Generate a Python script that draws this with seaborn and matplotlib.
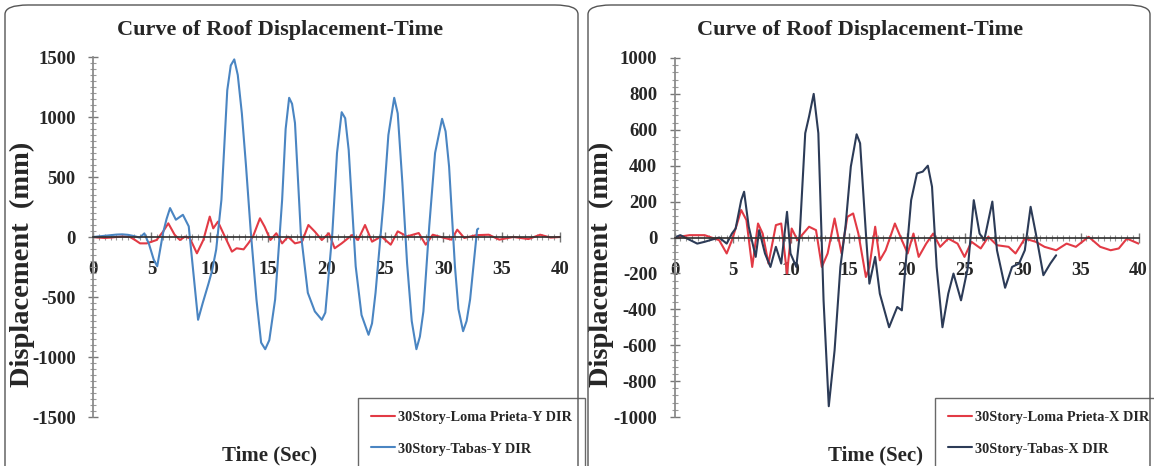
import numpy as np
import pandas as pd
import seaborn as sns
import matplotlib.pyplot as plt
from matplotlib.patches import FancyBboxPatch
from matplotlib.ticker import MultipleLocator

# ---- datos (tiempo en s, desplazamiento en mm) ----
t_loma_y = [0, 0.5, 1.0, 1.5, 2.0, 2.5, 3.17, 3.6, 4.03, 4.6, 5.0, 5.45, 6.0, 6.45, 7.0, 7.45,
            7.88, 8.3, 8.9, 9.45, 10.0, 10.3, 10.7, 11.16, 11.9, 12.3, 12.9, 13.3, 13.7, 14.3,
            14.7, 15.2, 15.7, 16.2, 16.7, 17.3, 17.9, 18.45, 19.0, 19.6, 20.2, 20.7, 21.3, 22.2,
            22.7, 23.3, 23.9, 24.7, 25.5, 26.1, 26.9, 27.9, 28.5, 29.1, 30.1, 30.7, 31.2, 31.8,
            32.8, 33.9, 34.8, 36.0, 37.3, 38.3, 39.2, 40.0]
d_loma_y = [0, -5, -8, -5, 0, 5, 0, -25, -53, -53, -40, -25, 45, 114, 17, -25,
            3, -11, -136, -25, 170, 72, 128, 31, -122, -94, -103, -53, 3, 156,
            86, -25, 31, -53, 3, -53, -39, 100, 45, -25, 31, -94, -53, 17,
            -25, 100, -39, 5, -64, 47, 5, 33, -64, 19, -8, -22, 61, -8,
            15, 19, -22, 0, -17, 19, -5, 0]

t_tabas_y = [0, 0.5, 1.0, 1.5, 2.0, 2.5, 3.0, 3.5, 4.0, 4.4, 4.8, 5.2, 5.5, 6.0, 6.3, 6.6, 7.1,
             7.7, 8.2, 8.6, 9.0, 9.4, 9.9, 10.2, 10.55, 11.0, 11.5, 11.8, 12.1, 12.4, 12.75,
             13.1, 13.5, 14.0, 14.4, 14.75, 15.1, 15.6, 16.2, 16.5, 16.8, 17.05, 17.3, 17.8,
             18.4, 19.0, 19.6, 19.9, 20.5, 20.9, 21.3, 21.6, 21.9, 22.5, 23.0, 23.6, 23.9,
             24.2, 24.9, 25.3, 25.8, 26.1, 26.5, 26.9, 27.3, 27.7, 28.0, 28.3, 28.8, 29.3,
             29.9, 30.2, 30.5, 31.0, 31.3, 31.7, 32.0, 32.3, 32.9, 33.0]
d_tabas_y = [0, 5, 10, 15, 20, 22, 18, 8, -5, 30, -60, -188, -244, 33, 150, 241, 144,
             185, 89, -300, -690, -550, -386, -280, -105, 310, 1223, 1430, 1480, 1350, 1030,
             600, 61, -520, -880, -935, -860, -520, 310, 900, 1160, 1110, 950, 33,
             -465, -620, -690, -630, 33, 700, 1040, 990, 725, -244, -650, -815, -720,
             -465, 310, 850, 1160, 1030, 450, -216, -700, -935, -830, -620, 89, 700,
             985, 880, 587, -244, -600, -785, -700, -520, 61, 70]

t_loma_x = [0, 1.3, 2.6, 3.85, 4.5, 4.95, 5.4, 5.75, 6.2, 6.7, 7.2, 7.6, 8.1, 8.74, 9.2, 9.7,
            10.1, 10.6, 11.1, 11.6, 12.2, 12.7, 13.2, 13.8, 14.4, 14.9, 15.4, 15.85, 16.5,
            16.8, 17.3, 17.7, 18.2, 19.0, 19.6, 20.1, 20.6, 21.05, 21.7, 22.3, 22.9, 23.6,
            24.4, 25.0, 25.6, 26.4, 27.05, 27.8, 28.8, 29.4, 30.2, 31.15, 31.9, 32.9, 33.8,
            34.6, 35.7, 36.7, 37.6, 38.3, 39.0, 40.0]
d_loma_x = [0, 13, 13, -15, -89, -15, 78, 153, 97, -164, 78, 22, -145, 69, 78, -201,
            50, -15, 22, 60, 41, -164, -89, 106, -89, 115, 134, 22, -220,
            -164, 60, -127, -71, 78, -15, -89, 22, -108, -34, 22, -52, -6,
            -34, -108, -24, -61, 4, -43, -52, -89, -6, -24, -52, -71, -34,
            -52, 4, -52, -71, -61, -6, -34]

t_tabas_x = [0, 0.5, 1.96, 2.6, 3.85, 4.5, 4.95, 5.27, 5.75, 6.0, 6.4, 7.0, 7.3, 7.8, 8.27,
             8.74, 9.2, 9.7, 10.0, 10.5, 10.8, 11.27, 11.6, 12.0, 12.4, 12.85, 13.3, 13.8,
             14.3, 14.74, 15.2, 15.7, 16.0, 16.5, 16.8, 17.3, 17.7, 18.5, 19.2, 19.6, 20.1,
             20.4, 20.9, 21.4, 21.84, 22.2, 22.6, 23.1, 23.6, 24.05, 24.7, 25.3, 25.8, 26.3,
             26.7, 27.4, 27.8, 28.5, 29.1, 29.7, 30.2, 30.7, 31.15, 31.8, 32.4, 32.9]
d_tabas_x = [0, 13, -34, -24, 0, -34, 22, 50, 208, 255, 60, -108, 41, -89, -164,
             -52, -145, 143, -89, -164, 22, 581, 674, 800, 581, -350, -940, -629,
             -164, 60, 395, 575, 525, 22, -257, -108, -313, -500, -387, -406, -15,
             208, 357, 367, 400, 283, -164, -500, -313, -201, -350, -164, 208, 22,
             -15, 200, -71, -280, -164, -145, -71, 171, 22, -210, -145, -99]

rojo = '#E23A45'
azul = '#4A85C2'
marino = '#2C3B57'
fuente = 'Liberation Serif'

sns.set_theme(style='white')
plt.rcParams['font.family'] = [fuente, 'DejaVu Serif']
plt.rcParams['font.weight'] = 'bold'
plt.rcParams['axes.unicode_minus'] = False

W, H = 1154, 466
fig = plt.figure(figsize=(W / 100, H / 100), dpi=100)

# marcos redondeados de cada panel
for x0, x1 in [(5, 578), (588, 1150)]:
    fig.patches.append(FancyBboxPatch((x0 / W, -0.1), (x1 - x0) / W, 1 - 5 / H + 0.1,
                                      boxstyle='round,pad=0,rounding_size=0.02',
                                      transform=fig.transFigure, fill=False,
                                      edgecolor='#555555', linewidth=1.0))

paneles = [
    dict(pos=[93 / W, 1 - 417 / H, 467 / W, 360 / H], lim=1500, major=500, minor=50,
         series=[(t_loma_y, d_loma_y, '30Story-Loma Prieta-Y DIR', rojo),
                 (t_tabas_y, d_tabas_y, '30Story-Tabas-Y DIR', azul)],
         titulo_x=280, xlab=(270 - 93) / 467, ylab=(35 - 93) / 467, leg_x=358),
    dict(pos=[674.5 / W, 1 - 417 / H, 464 / W, 359 / H], lim=1000, major=200, minor=40,
         series=[(t_loma_x, d_loma_x, '30Story-Loma Prieta-X DIR', rojo),
                 (t_tabas_x, d_tabas_x, '30Story-Tabas-X DIR', marino)],
         titulo_x=860, xlab=(875 - 674.5) / 464, ylab=(614 - 674.5) / 464, leg_x=935),
]

for p in paneles:
    ax = fig.add_axes(p['pos'])
    for t, d, nombre, color in p['series']:
        df = pd.DataFrame({'t': t, 'd': d})
        sns.lineplot(data=df, x='t', y='d', ax=ax, color=color, linewidth=1.5,
                     label=nombre, estimator=None, sort=True)
    ax.set_xlim(0, 40)
    ax.set_ylim(-p['lim'], p['lim'])
    ax.set_facecolor('none')
    for s in ['top', 'right']:
        ax.spines[s].set_visible(False)
    ax.spines['bottom'].set_position(('data', 0))
    ax.spines['left'].set_position(('data', 0))
    ax.spines['bottom'].set_color('#333333')
    ax.spines['left'].set_color('#888888')
    ax.xaxis.set_major_locator(MultipleLocator(5))
    ax.xaxis.set_minor_locator(MultipleLocator(0.5))
    ax.yaxis.set_major_locator(MultipleLocator(p['major']))
    ax.yaxis.set_minor_locator(MultipleLocator(p['minor']))
    ax.tick_params(axis='both', which='both', bottom=True, left=True)
    ax.tick_params(axis='both', which='major', direction='inout', length=7, width=1,
                   color='#777777', labelsize=13.5)
    ax.tick_params(axis='both', which='minor', direction='inout', length=4, width=0.8,
                   color='#999999')
    ax.tick_params(axis='y', which='major', pad=9)
    ax.tick_params(axis='x', which='major', pad=14)
    for lab in ax.get_xticklabels() + ax.get_yticklabels():
        lab.set_fontweight('bold')
        lab.set_family(fuente)
    ax.set_ylabel('Displacement  (mm)', fontsize=20.5, fontweight='bold', family=fuente)
    ax.yaxis.set_label_coords(p['ylab'], 0.425)
    ax.set_xlabel('Time (Sec)', fontsize=15, fontweight='bold', family=fuente)
    ax.xaxis.set_label_coords(p['xlab'], -0.078)
    fig.text(p['titulo_x'] / W, 1 - 30 / H, 'Curve of Roof Displacement-Time', ha='center',
             va='center', fontsize=16, fontweight='bold', family=fuente)
    leg = ax.legend(loc='upper left', bbox_to_anchor=(p['leg_x'] / W, 1 - 398 / H),
                    bbox_transform=fig.transFigure, frameon=True, fancybox=False,
                    prop={'family': fuente, 'weight': 'bold', 'size': 10.3},
                    handlelength=1.7, handletextpad=0.2, borderpad=0.9, labelspacing=1.3,
                    borderaxespad=0)
    leg.get_frame().set_edgecolor('#444444')
    leg.get_frame().set_linewidth(1.0)

fig.savefig('out.png', dpi=100)
